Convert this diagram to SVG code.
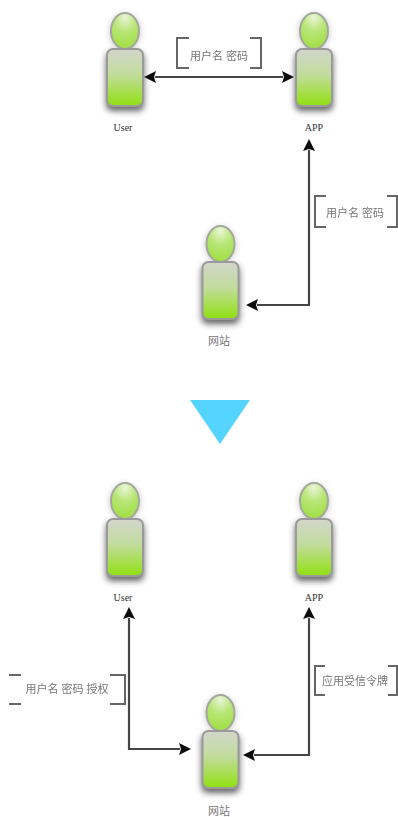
<svg xmlns="http://www.w3.org/2000/svg" width="398" height="817" viewBox="0 0 398 817">
<style>
.bg{fill:#fff}
.conn{fill:none;stroke:#444;stroke-width:2.2}
.tip{fill:#111}
.br{fill:none;stroke:#666;stroke-width:2}
.lab{font-family:"Liberation Sans","Noto Sans CJK SC",sans-serif;font-size:11px;fill:#777;text-anchor:middle}
.name{font-family:"Liberation Serif","Noto Sans CJK SC",serif;font-size:10px;fill:#333;text-anchor:middle}
.cn{font-family:"Liberation Sans","Noto Sans CJK SC",sans-serif;font-size:11px;fill:#777;text-anchor:middle}
.head{fill:url(#hg);stroke:#a4a89c;stroke-width:2}
.body{fill:url(#bg);stroke:#9a9a9a;stroke-width:2}
</style>
<defs>
<radialGradient id="hg" cx="0.5" cy="0.12" r="0.8"><stop offset="0" stop-color="#eaf5da"/><stop offset="0.5" stop-color="#b9e678"/><stop offset="1" stop-color="#a4e04a"/></radialGradient>
<linearGradient id="bg" x1="0" y1="0" x2="0" y2="1"><stop offset="0" stop-color="#d2d6cc"/><stop offset="0.45" stop-color="#c2dc9c"/><stop offset="1" stop-color="#90e010"/></linearGradient>
<filter id="sh" x="-40%" y="-30%" width="180%" height="160%"><feGaussianBlur stdDeviation="3"/></filter>
<filter id="soft" x="-5%" y="-5%" width="110%" height="110%"><feGaussianBlur stdDeviation="0.45"/></filter>
<g id="person">
<ellipse cx="0" cy="19" rx="15" ry="18" fill="#555" opacity="0.35" filter="url(#sh)"/>
<rect x="-19" y="39" width="38" height="59" rx="6" fill="#333" opacity="0.75" filter="url(#sh)"/>
<g filter="url(#soft)">
<ellipse class="head" cx="0" cy="18" rx="14" ry="18"/>
<rect class="body" x="-18" y="36" width="36" height="57" rx="6"/>
</g>
</g>
</defs>
<rect class="bg" width="398" height="817"/>
<g id="connectors" filter="url(#soft)">
<path class="conn" d="M155 77H283"/>
<path class="tip" d="M144 77L156 71L154 77L156 83Z M294 77L282 71L284 77L282 83Z"/>
<path class="conn" d="M309 150V305H257"/>
<path class="tip" d="M309 139L303 151L309 149L315 151Z M246 305L258 299L256 305L258 311Z"/>
<path class="conn" d="M129 618V749H180"/>
<path class="tip" d="M129 607L123 619L129 617L135 619Z M191 749L179 743L181 749L179 755Z"/>
<path class="conn" d="M309 618V755H254"/>
<path class="tip" d="M309 607L303 619L309 617L315 619Z M243 755L255 749L253 755L255 761Z"/>
</g>
<g id="label1" filter="url(#soft)"><path class="br" d="M189 38H177V68H189M250 38H261V68H250"/><text class="lab" x="219" y="60">用户名 密码</text></g>
<g id="label2" filter="url(#soft)"><path class="br" d="M326 196H315V227H326M387 196H397V227H387"/><text class="lab" x="355" y="217">用户名 密码</text></g>
<g id="label3" filter="url(#soft)"><path class="br" d="M9 675H21M9 704H21M110 675H125V704H110"/><text class="lab" x="67" y="693">用户名 密码 授权</text></g>
<g id="label4" filter="url(#soft)"><path class="br" d="M325 666H315V695H325M388 666H397V695H388"/><text class="lab" x="355" y="685">应用受信令牌</text></g>
<g id="user-top"><use href="#person" x="125" y="13"/><text class="name" x="123" y="131">User</text></g>
<g id="app-top"><use href="#person" x="314" y="13"/><text class="name" x="314" y="131">APP</text></g>
<g id="site-top"><use href="#person" x="220.500" y="226"/><text class="cn" x="219" y="345">网站</text></g>
<g id="arrow-down"><polygon points="190,400 250,400 220,444" fill="#55d4ff" filter="url(#soft)"/></g>
<g id="user-bottom"><use href="#person" x="125" y="483"/><text class="name" x="123" y="601">User</text></g>
<g id="app-bottom"><use href="#person" x="314" y="483"/><text class="name" x="314" y="601">APP</text></g>
<g id="site-bottom"><use href="#person" x="220.500" y="695"/><text class="cn" x="219" y="815">网站</text></g>
</svg>
